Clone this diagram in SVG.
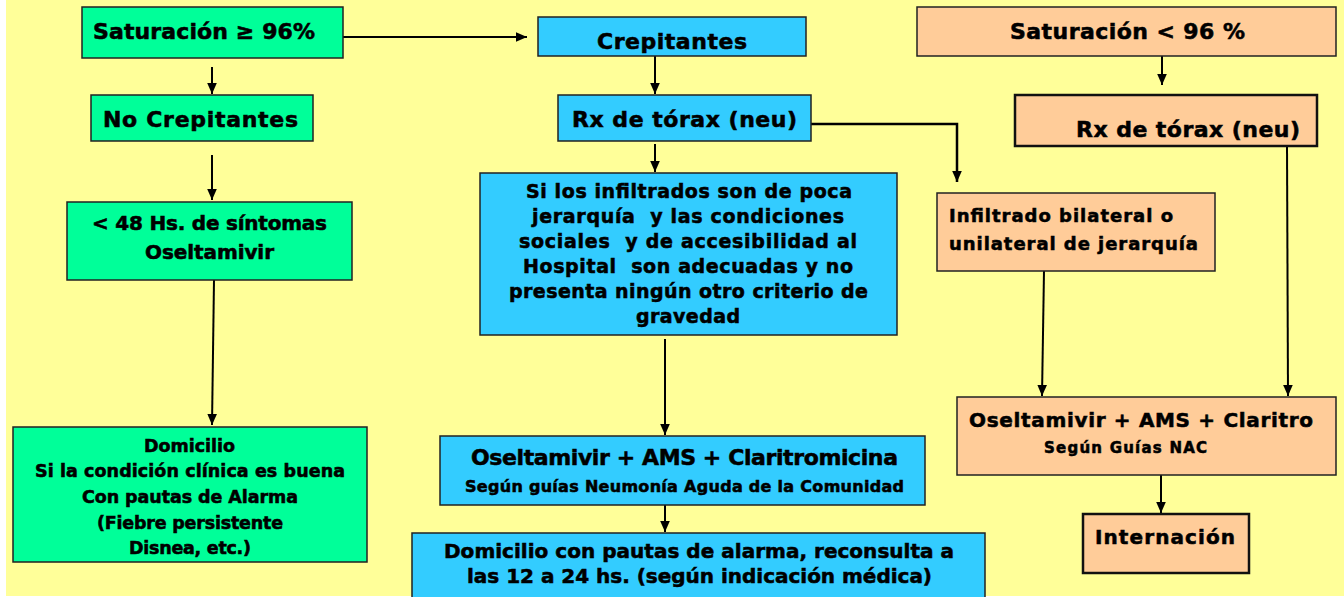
<svg xmlns="http://www.w3.org/2000/svg" width="1344" height="597" viewBox="0 0 1344 597">
<style>
text{font-family:"DejaVu Sans","Liberation Sans",sans-serif;font-weight:bold;fill:#000;stroke:#000;stroke-width:0.55;white-space:pre}
.box{stroke:#222;stroke-width:1.5}
.g{fill:#00FF99}.b{fill:#33CCFF}.p{fill:#FFCC99}
.thick{stroke:#111;stroke-width:2.5}
.c{fill:none;stroke:#000;stroke-width:2}
.h{font-size:22px}.m{font-size:20px}.s{font-size:17.5px}.t{font-size:19px}
</style>
<defs>
<marker id="ah" markerUnits="userSpaceOnUse" markerWidth="12" markerHeight="12" viewBox="0 0 12 12" refX="11" refY="6" orient="auto">
<path d="M0,1.2 L11,6 L0,10.8 Z" fill="#000"/>
</marker>
</defs>
<rect x="0" y="0" width="1344" height="597" fill="#FFFFFF"/>
<rect x="6" y="0" width="1338" height="596" fill="#FFFF99"/>

<g id="connectors">
<path class="c" d="M343,37 H527" marker-end="url(#ah)"/>
<path class="c" d="M212,67 V94" marker-end="url(#ah)"/>
<path class="c" d="M212,155 V200" marker-end="url(#ah)"/>
<path class="c" d="M214,280 L212,425" marker-end="url(#ah)"/>
<path class="c" d="M655,56 V94" marker-end="url(#ah)"/>
<path class="c" d="M655,144 V172" marker-end="url(#ah)"/>
<path class="c" style="stroke-width:2.5" d="M811,124 H957 V182" marker-end="url(#ah)"/>
<path class="c" d="M1162,56 V85" marker-end="url(#ah)"/>
<path class="c" d="M1287,146 L1288,396" marker-end="url(#ah)"/>
<path class="c" d="M1044,271 L1042,396" marker-end="url(#ah)"/>
<path class="c" d="M665,339 V435" marker-end="url(#ah)"/>
<path class="c" d="M665,505 V532" marker-end="url(#ah)"/>
<path class="c" d="M1161,475 V513" marker-end="url(#ah)"/>
</g>

<g id="sat-ge-96">
<rect class="box g" x="82" y="7" width="261" height="51"/>
<text class="h" x="93" y="39" textLength="222">Saturación ≥ 96%</text>
</g>
<g id="crepitantes">
<rect class="box b" x="538" y="17" width="268" height="39"/>
<text class="h" x="597" y="49" textLength="150">Crepitantes</text>
</g>
<g id="sat-lt-96">
<rect class="box p" x="917" y="7" width="419" height="49"/>
<text class="h" x="1010" y="39" textLength="235">Saturación &lt; 96 %</text>
</g>
<g id="no-crepitantes">
<rect class="box g" x="91" y="95" width="222" height="46"/>
<text class="h" x="103" y="127" textLength="195">No Crepitantes</text>
</g>
<g id="rx-mid">
<rect class="box b" x="558" y="95" width="253" height="46"/>
<text class="h" x="572" y="127" textLength="225">Rx de tórax (neu)</text>
</g>
<g id="rx-right">
<rect class="box p thick" x="1015" y="95" width="302" height="51"/>
<text class="h" x="1076" y="137" textLength="224">Rx de tórax (neu)</text>
</g>
<g id="menos-48">
<rect class="box g" x="67" y="202" width="285" height="78"/>
<text class="m" x="92" y="230" textLength="235">&lt; 48 Hs. de síntomas</text>
<text class="m" x="145" y="259" textLength="129">Oseltamivir</text>
</g>
<g id="si-infiltrados">
<rect class="box b" x="480" y="173" width="417" height="162"/>
<text class="t" x="526" y="198" textLength="326">Si los infiltrados son de poca</text>
<text class="t" x="532" y="223" textLength="312">jerarquía  y las condiciones</text>
<text class="t" x="519" y="248" textLength="338">sociales  y de accesibilidad al</text>
<text class="t" x="523" y="273" textLength="330">Hospital  son adecuadas y no</text>
<text class="t" x="509" y="298" textLength="359">presenta ningún otro criterio de</text>
<text class="t" x="636" y="323" textLength="104">gravedad</text>
</g>
<g id="infiltrado-bilateral">
<rect class="box p" x="937" y="193" width="278" height="78"/>
<text style="font-size:18px" x="949" y="222" textLength="224">Infiltrado bilateral o</text>
<text style="font-size:18px" x="949" y="250" textLength="249">unilateral de jerarquía</text>
</g>
<g id="domicilio-left">
<rect class="box g" x="13" y="427" width="354" height="135"/>
<text class="s" x="144" y="452" textLength="91">Domicilio</text>
<text class="s" x="35" y="477" textLength="310">Si la condición clínica es buena</text>
<text class="s" x="82" y="503" textLength="216">Con pautas de Alarma</text>
<text class="s" x="97" y="529" textLength="186">(Fiebre persistente</text>
<text class="s" x="129" y="554" textLength="122">Disnea, etc.)</text>
</g>
<g id="oseltamivir-mid">
<rect class="box b" x="440" y="436" width="485" height="69"/>
<text class="h" x="471" y="465" textLength="427">Oseltamivir + AMS + Claritromicina</text>
<text style="font-size:16px" x="465" y="492" textLength="439">Según guías Neumonía Aguda de la Comunidad</text>
</g>
<g id="domicilio-bottom">
<rect class="box b" x="412" y="533" width="573" height="70"/>
<text class="m" x="444" y="558" textLength="510">Domicilio con pautas de alarma, reconsulta a</text>
<text class="m" x="467" y="583" textLength="465">las 12 a 24 hs. (según indicación médica)</text>
</g>
<g id="oseltamivir-right">
<rect class="box p" x="957" y="397" width="379" height="78"/>
<text class="m" x="969" y="427" textLength="344">Oseltamivir + AMS + Claritro</text>
<text style="font-size:15px" x="1044" y="453" textLength="163">Según Guías NAC</text>
</g>
<g id="internacion">
<rect class="box p thick" x="1083" y="514" width="166" height="59"/>
<text class="m" x="1095" y="544" textLength="140">Internación</text>
</g>
</svg>
